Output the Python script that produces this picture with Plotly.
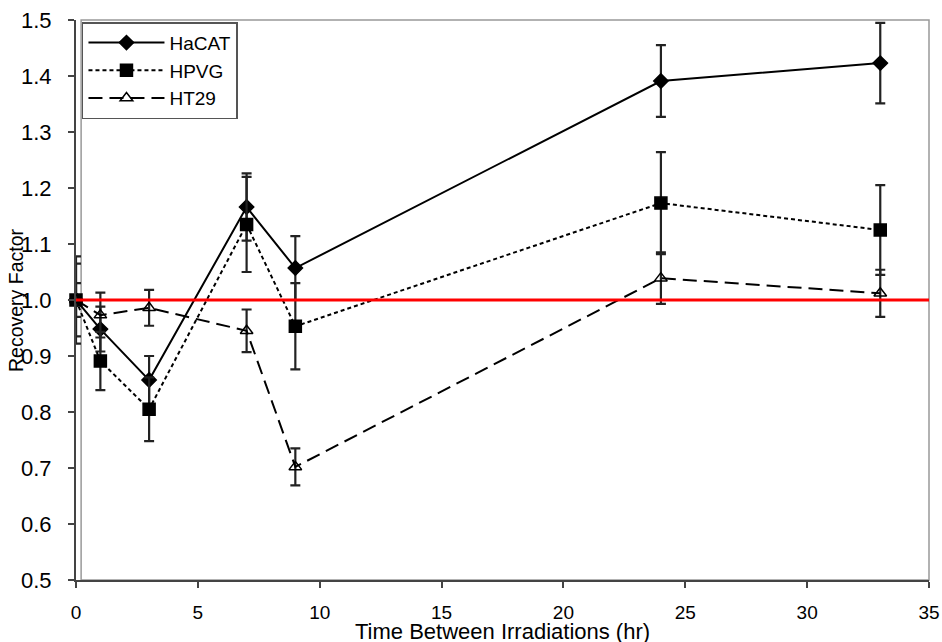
import plotly.graph_objects as go

x_hours = [0, 1, 3, 7, 9, 24, 33]

hacat = [1.0, 0.948, 0.857, 1.166, 1.057, 1.391, 1.423]
hacat_err = [0.065, 0.040, 0.043, 0.060, 0.057, 0.064, 0.072]

hpvg = [1.0, 0.891, 0.805, 1.135, 0.953, 1.173, 1.125]
hpvg_err = [0.078, 0.052, 0.057, 0.085, 0.077, 0.091, 0.080]

ht29 = [1.0, 0.973, 0.986, 0.945, 0.702, 1.039, 1.012]
ht29_err = [0.030, 0.040, 0.032, 0.038, 0.033, 0.046, 0.042]

ref_x = [0, 35]
ref_y = [1.0, 1.0]

x_ticks = [0, 5, 10, 15, 20, 25, 30, 35]
y_ticks = [0.5, 0.6, 0.7, 0.8, 0.9, 1.0, 1.1, 1.2, 1.3, 1.4, 1.5]

FONT = "Liberation Sans, Arial, sans-serif"

fig = go.Figure()

def add_series(name, y, err, dash, symbol, size):
    fig.add_trace(go.Scatter(
        x=x_hours, y=y, name=name, mode="lines+markers",
        line=dict(color="black", width=2, dash=dash),
        marker=dict(symbol=symbol, size=size, color="black",
                    line=dict(color="black", width=1.5)),
        error_y=dict(type="data", array=err, visible=True,
                     color="#222222", thickness=2.2, width=5),
        cliponaxis=False,
    ))

add_series("HaCAT", hacat, hacat_err, "solid", "diamond", 11)
add_series("HPVG", hpvg, hpvg_err, "4px,3px", "square", 12)
add_series("HT29", ht29, ht29_err, "14px,7px", "triangle-up-open", 11)

fig.add_trace(go.Scatter(
    x=ref_x, y=ref_y, mode="lines", showlegend=False,
    line=dict(color="#ff0000", width=3), hoverinfo="skip",
))

fig.update_layout(
    width=942, height=642,
    margin=dict(l=76, r=13, t=20, b=62, autoexpand=False),
    paper_bgcolor="white", plot_bgcolor="white",
    font=dict(family=FONT, size=18, color="black"),
    showlegend=True,
    legend=dict(
        x=0.007, y=0.996, xanchor="left", yanchor="top",
        bgcolor="white", bordercolor="#555555", borderwidth=1.5,
        font=dict(family=FONT, size=19, color="black"),
        itemwidth=76,
    ),
)

fig.update_xaxes(
    range=[0, 35], tickvals=x_ticks,
    ticks="outside", ticklen=6, tickcolor="#444444", tickwidth=1.5,
    ticklabelstandoff=8,
    showgrid=False, zeroline=False, automargin=False,
    showline=True, linecolor="#444444", linewidth=2,
    tickfont=dict(family=FONT, size=19),
)
fig.update_yaxes(
    range=[0.5, 1.5], tickvals=y_ticks, tickformat=".1f",
    ticks="outside", ticklen=6, tickcolor="#444444", tickwidth=1.5,
    ticklabelstandoff=12,
    showgrid=False, zeroline=False, automargin=False,
    showline=True, linecolor="#444444", linewidth=2,
    tickfont=dict(family=FONT, size=22),
)

# axis titles
fig.add_annotation(text="Time Between Irradiations (hr)", xref="paper", yref="paper",
                   x=0.5, y=0, yshift=-51, xanchor="center", yanchor="middle",
                   showarrow=False, font=dict(family=FONT, size=22, color="black"))
fig.add_annotation(text="Recovery Factor", xref="paper", yref="paper",
                   x=0, y=0.5, xshift=-60, textangle=-90, xanchor="center", yanchor="middle",
                   showarrow=False, font=dict(family=FONT, size=19.5, color="black"))

# light plot-area frame
fig.add_shape(type="rect", xref="paper", yref="paper", x0=0.006, x1=1, y0=0, y1=1,
              line=dict(color="#999999", width=1.5), layer="below")

fig.write_html("out.html",
               config={"displayModeBar": False},
               post_script="document.body.style.margin='0px';document.body.style.overflow='hidden';")
